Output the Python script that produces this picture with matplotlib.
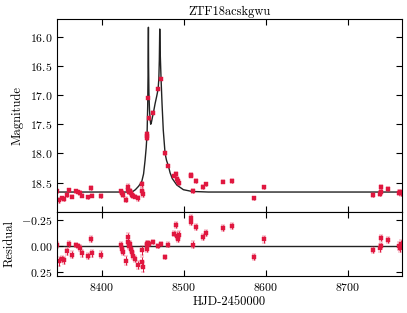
import numpy as np
import matplotlib
matplotlib.use("Agg")
import matplotlib.pyplot as plt

plt.rcParams['font.family'] = 'serif'
plt.rcParams['font.serif'] = ['cmr10', 'DejaVu Serif']
plt.rcParams['mathtext.fontset'] = 'cm'
plt.rcParams['axes.formatter.use_mathtext'] = True
plt.rcParams['axes.unicode_minus'] = True

# 观测数据 (HJD-2450000, 星等, 残差, 误差)
hjd = [8345.5, 8348.3, 8351.2, 8354.0, 8358.0, 8360.5, 8363.4, 8368.3, 8370.7, 8373.5,
       8376.3, 8383.7, 8387.0, 8387.8, 8398.8, 8423.5, 8424.4, 8426.3, 8429.6, 8431.7,
       8432.4, 8433.2, 8434.5, 8435.7, 8437.3, 8438.5, 8440.6, 8443.9, 8448.8, 8449.5,
       8450.0, 8455.3, 8455.5, 8455.7, 8455.9, 8458.0, 8462.9, 8468.7, 8472.3, 8477.2,
       8481.2, 8488.2, 8490.6, 8492.2, 8493.5, 8494.3, 8508.3, 8508.7, 8511.0, 8514.8,
       8523.0, 8526.8, 8547.6, 8558.9, 8585.7, 8597.9, 8730.5, 8739.4, 8739.8, 8740.0,
       8748.8, 8761.8, 8763.0, 8764.5]
mag = [18.65, 18.80, 18.77, 18.78, 18.71, 18.63, 18.74, 18.65, 18.66, 18.68,
       18.72, 18.75, 18.59, 18.72, 18.73, 18.65, 18.68, 18.71, 18.79, 18.57,
       18.62, 18.66, 18.64, 18.68, 18.71, 18.73, 18.74, 18.77, 18.53, 18.64,
       18.70, 17.66, 17.70, 17.74, 17.05, 17.40, 17.30, 16.90, 16.72, 18.00,
       18.21, 18.38, 18.35, 18.44, 18.47, 18.51, 18.38, 18.36, 18.64, 18.47,
       18.57, 18.53, 18.48, 18.47, 18.77, 18.58, 18.71, 18.69, 18.57, 18.66,
       18.61, 18.67, 18.66, 18.68]
res = [-0.01, 0.146, 0.12, 0.136, 0.05, -0.02, 0.08, -0.01, 0.0, 0.02,
       0.07, 0.095, -0.07, 0.07, 0.08, -0.01, 0.025, 0.057, 0.137, -0.086,
       -0.038, 0.0, -0.02, 0.025, 0.057, 0.09, 0.12, 0.18, 0.04, 0.15,
       0.20, -0.02, 0.03, -0.01, -0.03, -0.02, -0.04, 0.0, -0.02, 0.105,
       -0.015, -0.12, -0.20, -0.10, -0.07, -0.11, -0.27, -0.23, -0.015, -0.18,
       -0.086, -0.124, -0.175, -0.19, 0.105, -0.064, 0.04, 0.02, -0.08, 0.0,
       -0.06, 0.0, 0.02, -0.02]
err = [0.03, 0.04, 0.03, 0.03, 0.03, 0.03, 0.03, 0.02, 0.02, 0.03,
       0.03, 0.03, 0.03, 0.03, 0.03, 0.03, 0.03, 0.03, 0.04, 0.04,
       0.03, 0.03, 0.03, 0.03, 0.03, 0.03, 0.03, 0.04, 0.04, 0.05,
       0.05, 0.03, 0.03, 0.03, 0.02, 0.02, 0.02, 0.02, 0.02, 0.02,
       0.02, 0.02, 0.03, 0.03, 0.03, 0.03, 0.03, 0.03, 0.03, 0.03,
       0.03, 0.03, 0.03, 0.03, 0.03, 0.03, 0.03, 0.04, 0.03, 0.03,
       0.03, 0.04, 0.04, 0.04]

# 模型曲线
model_t = [8340, 8430, 8438, 8441, 8445, 8448.8, 8451, 8452.8, 8454.2, 8455.3,
           8456.0, 8456.5, 8456.9, 8457.1, 8457.5, 8458.2, 8459.0, 8459.7, 8460.5, 8461.5,
           8463.0, 8465.0, 8467.0, 8468.7, 8469.6, 8470.2, 8470.7, 8471.2, 8472.3, 8473.5,
           8475.0, 8477.2, 8479.0, 8481.2, 8483.3, 8486.0, 8491.5, 8499.5, 8510, 8530, 8770]
model_m = [18.66, 18.66, 18.65, 18.62, 18.56, 18.48, 18.35, 18.12, 17.90, 17.65,
           17.20, 16.60, 15.84, 16.50, 16.95, 17.25, 17.42, 17.50, 17.47, 17.40,
           17.30, 17.15, 17.02, 16.90, 16.72, 16.40, 15.87, 16.25, 16.72, 17.15,
           17.60, 18.00, 18.12, 18.21, 18.33, 18.43, 18.54, 18.62, 18.65, 18.66, 18.66]

red = '#e0173f'
fig = plt.figure(figsize=(4.07, 3.13), dpi=100)
ax1 = fig.add_axes([0.140, 0.323, 0.848, 0.616])
ax2 = fig.add_axes([0.140, 0.118, 0.848, 0.205], sharex=ax1)

ax1.plot(model_t, model_m, color='#222222', lw=1.0, zorder=1)
ax1.errorbar(hjd, mag, yerr=err, fmt='s', ms=2.3, mew=0.3, color=red, ecolor=red,
             elinewidth=0.7, capsize=1.4, capthick=0.7, zorder=2)
ax1.set_ylim(19.0, 15.7)
ax1.set_ylabel('Magnitude', fontsize=9)
ax1.set_title('ZTF18acskgwu', fontsize=9, pad=3)
ax1.set_yticks([16.0, 16.5, 17.0, 17.5, 18.0, 18.5])
plt.setp(ax1.get_xticklabels(), visible=False)

ax2.axhline(0, color='#222222', lw=1.0, zorder=1)
ax2.errorbar(hjd, res, yerr=err, fmt='s', ms=2.3, mew=0.3, color=red, ecolor=red,
             elinewidth=0.7, capsize=1.4, capthick=0.7, zorder=2)
ax2.set_ylim(0.285, -0.326)
ax2.set_yticks([-0.25, 0.0, 0.25])
ax2.set_ylabel('Residual', fontsize=9)
ax2.set_xlabel('HJD-2450000', fontsize=9, labelpad=2)
ax2.set_xlim(8345.5, 8766)
ax2.set_xticks([8400, 8500, 8600, 8700])

for ax in (ax1, ax2):
    ax.tick_params(direction='in', top=True, right=True, labelsize=8.5, length=4, width=0.8)
    for s in ax.spines.values():
        s.set_linewidth(0.8)

fig.savefig('out.png', dpi=100)
